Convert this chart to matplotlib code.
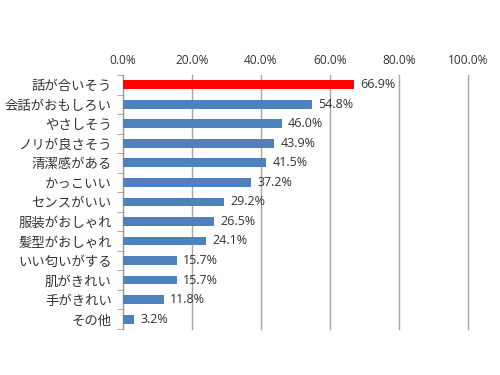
import matplotlib
matplotlib.use("Agg")
import matplotlib.pyplot as plt
import numpy as np

plt.rcParams['font.family'] = ['Noto Sans CJK JP', 'DejaVu Sans']

# data
labels = ['話が合いそう', '会話がおもしろい', 'やさしそう', 'ノリが良さそう', '清潔感がある',
          'かっこいい', 'センスがいい', '服装がおしゃれ', '髪型がおしゃれ', 'いい匂いがする',
          '肌がきれい', '手がきれい', 'その他']
values = [66.9, 54.8, 46.0, 43.9, 41.5, 37.2, 29.2, 26.5, 24.1, 15.7, 15.7, 11.8, 3.2]
highlight = 0

fig = plt.figure(figsize=(5, 3.75), dpi=100)
ax = fig.add_axes([0.246, 0.123, 0.69, 0.677])

y = np.arange(len(labels))
colors = ['#FF0000' if i == highlight else '#4F81BD' for i in range(len(labels))]
ax.barh(y, values, height=0.45, color=colors, zorder=3)

for yi, v in zip(y, values):
    ax.text(v + 1.8, yi, f"{v:.1f}%", va='center', ha='left', fontsize=9,
            color='#333333', family=['Open Sans', 'DejaVu Sans'])

ax.set_xlim(0, 100)
ax.set_ylim(len(labels) - 0.5, -0.5)
ax.set_xticks(np.arange(0, 101, 20))
ax.set_xticklabels([f"{t:.1f}%" for t in np.arange(0, 101, 20)], fontsize=8.6,
                   color='#333333', family=['Open Sans', 'DejaVu Sans'])
ax.xaxis.tick_top()
ax.tick_params(axis='x', length=0, pad=6)
ax.grid(axis='x', color='#A6A6A6', linewidth=1, zorder=0)
for gl in ax.get_xgridlines():
    gl.set_clip_on(False)

ax.set_yticks(y)
ax.set_yticklabels(labels, fontsize=9.6, color='#333333')
ax.set_yticks(np.arange(-0.5, len(labels)), minor=True)
ax.tick_params(axis='y', which='major', length=0, pad=8)
ax.tick_params(axis='y', which='minor', length=4, color='#999999', direction='out')

for s in ['top', 'right', 'bottom']:
    ax.spines[s].set_visible(False)
ax.spines['left'].set_color('#999999')

fig.savefig('out.png', dpi=100)
